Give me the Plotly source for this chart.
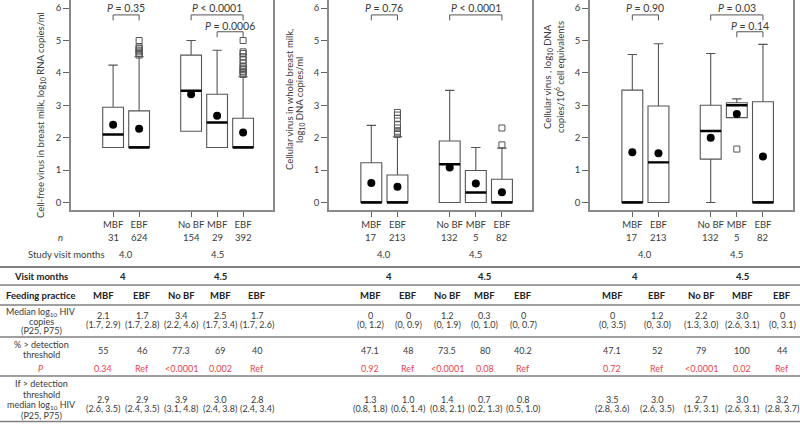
import plotly.graph_objects as go

W, H = 800, 424
FONT = "Lato"

# ---------------- data ----------------
categories = ["MBF", "EBF", "No BF", "MBF", "EBF"]
positions = [1, 2, 4, 5, 6]
n_cellfree = [31, 624, 154, 29, 392]
n_cellular = [17, 213, 132, 5, 82]
study_visit = ["4.0", "4.5"]

# Panel 1: cell-free virus
p1_q1 = [1.7, 1.7, 2.2, 1.7, 1.7]
p1_med = [2.1, 1.7, 3.45, 2.47, 1.7]
p1_q3 = [2.94, 2.83, 4.55, 3.34, 2.6]
p1_lo = [1.7, 1.7, 2.2, 1.7, 1.7]
p1_hi = [4.24, 4.5, 5.0, 4.7, 3.88]
p1_mean = [2.40, 2.28, 3.34, 2.68, 2.16]
p1_out_pos = [2, 2, 2, 2, 2, 2, 2, 6, 6, 6, 6, 6, 6, 6, 6, 6, 6, 6, 6]
p1_out_val = [4.55, 4.6, 4.65, 4.7, 4.75, 4.8, 5.0,
              3.95, 4.0, 4.05, 4.1, 4.15, 4.2, 4.3, 4.4, 4.5, 4.6, 4.65, 5.0]

# Panel 2: cellular virus in whole breast milk
p2_q1 = [0, 0, 0, 0, 0]
p2_med = [0, 0, 1.18, 0.31, 0]
p2_q3 = [1.23, 0.85, 1.9, 0.99, 0.72]
p2_lo = [0, 0, 0, 0, 0]
p2_hi = [2.38, 2.03, 3.46, 1.7, 1.68]
p2_mean = [0.6, 0.49, 1.08, 0.59, 0.32]
p2_out_pos = [2, 2, 2, 2, 2, 2, 2, 2, 6, 6]
p2_out_val = [2.1, 2.15, 2.2, 2.3, 2.4, 2.6, 2.7, 2.78, 1.78, 2.3]

# Panel 3: cellular virus per 10^6 cells
p3_q1 = [0, 0, 1.34, 2.62, 0]
p3_med = [0, 1.24, 2.21, 3.0, 0]
p3_q3 = [3.47, 2.98, 3.0, 3.08, 3.11]
p3_lo = [0, 0, 0, 2.62, 0]
p3_hi = [4.57, 4.9, 4.6, 3.2, 4.88]
p3_mean = [1.55, 1.52, 2.0, 2.73, 1.42]
p3_out_pos = [5]
p3_out_val = [1.65]

# P-value brackets: (label, from position, to position, level)
p1_brackets = [("P = 0.35", 1, 2, "high"), ("P < 0.0001", 4, 6, "high"), ("P = 0.0006", 5, 6, "low")]
p2_brackets = [("P = 0.76", 1, 2, "high"), ("P < 0.0001", 4, 6, "high")]
p3_brackets = [("P = 0.90", 1, 2, "high"), ("P = 0.03", 4, 6, "high"), ("P = 0.14", 5, 6, "low")]

# Table
tbl_visit = ["4", "4.5"]
tbl_median = [["2.1", "1.7", "3.4", "2.5", "1.7"],
              ["0", "0", "1.2", "0.3", "0"],
              ["0", "1.2", "2.2", "3.0", "0"]]
tbl_median_iqr = [["(1.7, 2.9)", "(1.7, 2.8)", "(2.2, 4.6)", "(1.7, 3.4)", "(1.7, 2.6)"],
                  ["(0, 1.2)", "(0, 0.9)", "(0, 1.9)", "(0, 1.0)", "(0, 0.7)"],
                  ["(0, 3.5)", "(0, 3.0)", "(1.3, 3.0)", "(2.6, 3.1)", "(0, 3.1)"]]
tbl_pct = [["55", "46", "77.3", "69", "40"],
           ["47.1", "48", "73.5", "80", "40.2"],
           ["47.1", "52", "79", "100", "44"]]
tbl_p = [["0.34", "Ref", "<0.0001", "0.002", "Ref"],
         ["0.92", "Ref", "<0.0001", "0.08", "Ref"],
         ["0.72", "Ref", "<0.0001", "0.02", "Ref"]]
tbl_if_med = [["2.9", "2.9", "3.9", "3.0", "2.8"],
              ["1.3", "1.0", "1.4", "0.7", "0.8"],
              ["3.5", "3.0", "2.7", "3.0", "3.2"]]
tbl_if_iqr = [["(2.6, 3.5)", "(2.4, 3.5)", "(3.1, 4.8)", "(2.4, 3.8)", "(2.4, 3.4)"],
              ["(0.8, 1.8)", "(0.6, 1.4)", "(0.8, 2.1)", "(0.2, 1.3)", "(0.5, 1.0)"],
              ["(2.8, 3.6)", "(2.6, 3.5)", "(1.9, 3.1)", "(2.6, 3.1)", "(2.8, 3.7)"]]

# ---------------- layout helpers ----------------
def py(p):
    return 1 - p / H

def px(p):
    return p / W

BOX_LINE = "#555555"
FRAME = "#8a8a8a"
TXT = "#3a3a3a"
RED = "#e8444a"

panel_x = [(71, 273), (329, 532), (590, 793)]
panel_y = (0, 210)
yrange = [-0.23, 6.25]
xrange = [-0.62, 7.15]

fig = go.Figure()

panels = [
    (p1_q1, p1_med, p1_q3, p1_lo, p1_hi, p1_mean, p1_out_pos, p1_out_val, p1_brackets, n_cellfree),
    (p2_q1, p2_med, p2_q3, p2_lo, p2_hi, p2_mean, p2_out_pos, p2_out_val, p2_brackets, n_cellular),
    (p3_q1, p3_med, p3_q3, p3_lo, p3_hi, p3_mean, p3_out_pos, p3_out_val, p3_brackets, n_cellular),
]

annotations = []
shapes = []

def ann(text, x, y, xref, yref, font, **kw):
    d = dict(text=text, x=x, y=y, xref=xref, yref=yref, showarrow=False,
             xanchor="center", yanchor="middle", font=font, borderpad=0)
    d.update(kw)
    annotations.append(d)

SMALL = dict(family=FONT, size=9.5, color=TXT)

for i, (q1, med, q3, lo, hi, mean, opos, oval, brackets, nvals) in enumerate(panels):
    xa = "x" if i == 0 else f"x{i+1}"
    ya = "y" if i == 0 else f"y{i+1}"
    fig.add_trace(go.Box(x=positions, q1=q1, median=med, q3=q3, lowerfence=lo, upperfence=hi,
                         width=0.8, whiskerwidth=0.45, fillcolor="white",
                         line=dict(color=BOX_LINE, width=1.1), boxpoints=False,
                         xaxis=xa, yaxis=ya, showlegend=False, hoverinfo="skip"))
    fig.add_trace(go.Box(x=positions, q1=med, median=med, q3=med, lowerfence=med, upperfence=med,
                         width=0.8, whiskerwidth=0, fillcolor="rgba(0,0,0,0)",
                         line=dict(color="black", width=2.4), boxpoints=False,
                         xaxis=xa, yaxis=ya, showlegend=False, hoverinfo="skip"))
    fig.add_trace(go.Scatter(x=opos, y=oval, mode="markers",
                             marker=dict(symbol="square-open", size=6, color=BOX_LINE, line=dict(width=1)),
                             xaxis=xa, yaxis=ya, showlegend=False, hoverinfo="skip"))
    fig.add_trace(go.Scatter(x=positions, y=mean, mode="markers",
                             marker=dict(symbol="circle", size=8, color="black"),
                             xaxis=xa, yaxis=ya, showlegend=False, hoverinfo="skip"))
    for label, a, b, lvl in brackets:
        top, tick, ty = (5.79, 5.62, 6.0) if lvl == "high" else (5.27, 5.1, 5.46)
        fig.add_trace(go.Scatter(x=[a, a, b, b], y=[tick, top, top, tick], mode="lines",
                                 line=dict(color=BOX_LINE, width=1), xaxis=xa, yaxis=ya,
                                 showlegend=False, hoverinfo="skip"))
        ann(label.replace("P", "<i>P</i>", 1), (a + b) / 2, ty, xa, ya,
            dict(family=FONT, size=10.5, color=TXT))
    # n row and study visit row
    for pos, nv in zip(positions, nvals):
        ann(str(nv), pos, py(237), xa, "paper", SMALL)
    ann(study_visit[0], (positions[0] + positions[1]) / 2, py(255), xa, "paper", SMALL)
    ann(study_visit[1], positions[3], py(255), xa, "paper", SMALL)

axis_common = dict(showgrid=False, zeroline=False, showline=True, mirror=True,
                   linecolor=FRAME, linewidth=1.5, ticks="outside", tickcolor="#666",
                   tickfont=dict(family=FONT, size=9.5, color=TXT), automargin=False)
layout_axes = {}
for i, (x0, x1) in enumerate(panel_x):
    sfx = "" if i == 0 else str(i + 1)
    layout_axes["xaxis" + sfx] = dict(axis_common, domain=[px(x0), px(x1)], range=xrange,
                                      tickvals=positions, ticktext=categories, ticklen=5,
                                      tickangle=0, anchor="y" + sfx)
    layout_axes["yaxis" + sfx] = dict(axis_common, domain=[py(panel_y[1]), py(panel_y[0])],
                                      range=yrange, tickvals=[0, 1, 2, 3, 4, 5, 6], ticklen=6,
                                      anchor="x" + sfx)

# y axis titles
YT = dict(family=FONT, size=9.5, color=TXT)
ann("Cell-free virus in breast milk, log<sub>10</sub> RNA copies/ml", px(41), py(115),
    "paper", "paper", YT, textangle=-90)
ann("Cellular virus in whole breast milk,", px(289), py(100), "paper", "paper", YT, textangle=-90)
ann("log<sub>10</sub> DNA copies/ml", px(300), py(100), "paper", "paper", YT, textangle=-90)
ann("Cellular virus , log<sub>10</sub> DNA", px(548), py(77), "paper", "paper", YT, textangle=-90)
ann("copies/10<sup>6</sup> cell equivalents", px(559), py(77), "paper", "paper", YT, textangle=-90)

# left labels under first panel
ann("<i>n</i>", px(60), py(237), "paper", "paper", SMALL)
ann("Study visit months", px(66), py(255), "paper", "paper", SMALL)

# ---------------- table ----------------
col_x = [[103, 142, 181, 220, 257], [370, 408, 447, 485, 523], [612, 657, 701, 742, 782]]
LBL_X = 41
TF = dict(family=FONT, size=9, color=TXT)
TFB = dict(family=FONT, size=9.5, color="#222", weight="bold")

def txt(t, x, y, font):
    ann(t, px(x), py(y), "paper", "paper", font)

txt("Visit months", LBL_X, 276, TFB)
txt("Feeding practice", LBL_X, 295, TFB)
for line, yy in zip(["Median log<sub>10</sub> HIV", "copies", "(P25, P75)"], [312, 321, 330]):
    txt(line, LBL_X, yy, TF)
for line, yy in zip(["% > detection", "threshold"], [344, 354]):
    txt(line, LBL_X, yy, TF)
txt("<i>P</i>", LBL_X, 368, dict(TF, color=RED))
for line, yy in zip(["If > detection", "threshold", "median log<sub>10</sub> HIV", "(P25, P75)"],
                    [383, 394, 405, 415]):
    txt(line, LBL_X, yy, TF)

for g in range(3):
    cx = col_x[g]
    txt(tbl_visit[0], (cx[0] + cx[1]) / 2, 276, TFB)
    txt(tbl_visit[1], cx[3], 276, TFB)
    for j in range(5):
        txt(categories[j], cx[j], 295, TFB)
        txt(tbl_median[g][j], cx[j], 315, TF)
        txt(tbl_median_iqr[g][j], cx[j], 324, TF)
        txt(tbl_pct[g][j], cx[j], 350, TF)
        txt(tbl_p[g][j], cx[j], 368, dict(TF, color=RED))
        txt(tbl_if_med[g][j], cx[j], 399, TF)
        txt(tbl_if_iqr[g][j], cx[j], 408, TF)

for yy, wdt in [(267, 2), (285, 1.3), (305, 1.3), (337, 1.3), (376, 1.3), (421.5, 1.6)]:
    shapes.append(dict(type="line", xref="paper", yref="paper", x0=0, x1=1, y0=py(yy), y1=py(yy),
                       line=dict(color="#808080", width=wdt)))

fig.update_layout(width=W, height=H, margin=dict(l=0, r=0, t=0, b=0),
                  paper_bgcolor="white", plot_bgcolor="white", boxmode="overlay",
                  annotations=annotations, shapes=shapes, showlegend=False,
                  font=dict(family=FONT, color=TXT), **layout_axes)

fig.write_html("out.html", config={"displayModeBar": False},
               post_script="document.body.style.margin='0';document.body.style.overflow='hidden';")
